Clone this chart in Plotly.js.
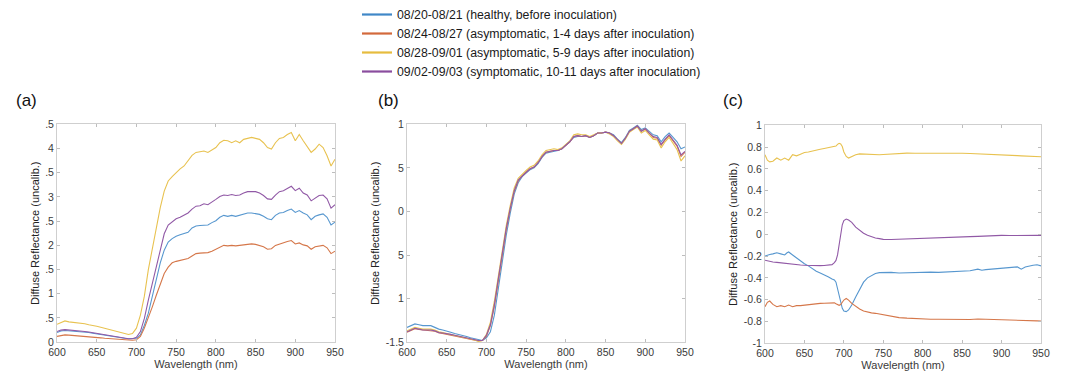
<!DOCTYPE html>
<html>
<head>
<meta charset="utf-8">
<script src="https://cdn.plot.ly/plotly-3.0.1.min.js"></script>
<style>
html,body{margin:0;padding:0;background:#fff;}
#chart{width:1080px;height:377px;}
</style>
</head>
<body>
<div id="chart"></div>
<script>
// ---------- DATA ----------
const seriesNames = [
  "08/20-08/21 (healthy, before inoculation)",
  "08/24-08/27 (asymptomatic, 1-4 days after inoculation)",
  "08/28-09/01 (asymptomatic, 5-9 days after inoculation)",
  "09/02-09/03 (symptomatic, 10-11 days after inoculation)"
];
const panelLabels = ["(a)", "(b)", "(c)"];

const wlAB = [600,605,610,615,620,625,630,635,640,645,650,655,660,665,670,675,680,685,690,695,
  700,705,710,715,720,725,730,735,740,745,750,755,760,765,770,775,780,785,790,795,
  800,805,810,815,820,825,830,835,840,845,850,855,860,865,870,875,880,885,890,895,
  900,905,910,915,920,925,930,935,940,945,950];

// Panel (a)
const aBlue = [0.20,0.23,0.24,0.235,0.23,0.225,0.22,0.21,0.20,0.185,0.17,0.155,0.14,0.13,0.12,0.105,0.09,0.08,0.07,0.07,
  0.08,0.15,0.35,0.60,0.97,1.32,1.64,1.90,2.07,2.14,2.19,2.22,2.24,2.27,2.36,2.40,2.41,2.42,2.42,2.47,
  2.51,2.58,2.62,2.60,2.62,2.60,2.62,2.64,2.67,2.67,2.66,2.64,2.60,2.55,2.53,2.62,2.67,2.68,2.72,2.75,
  2.68,2.72,2.67,2.63,2.53,2.60,2.63,2.65,2.58,2.42,2.48];
const aOrange = [0.12,0.14,0.15,0.145,0.14,0.135,0.13,0.125,0.12,0.11,0.10,0.09,0.08,0.075,0.07,0.06,0.05,0.045,0.04,0.04,
  0.05,0.12,0.29,0.49,0.73,0.97,1.21,1.42,1.55,1.64,1.67,1.69,1.71,1.73,1.78,1.83,1.84,1.84,1.85,1.88,
  1.92,1.97,2.00,1.99,2.00,1.99,2.00,2.01,2.03,2.03,2.02,2.00,1.97,1.92,1.93,2.00,2.03,2.05,2.08,2.10,
  2.03,2.05,2.01,1.99,1.92,1.97,1.99,2.00,1.95,1.83,1.88];
const aYellow = [0.37,0.41,0.44,0.42,0.41,0.41,0.40,0.38,0.36,0.35,0.33,0.31,0.29,0.27,0.25,0.23,0.20,0.18,0.16,0.18,
  0.29,0.56,0.95,1.50,1.95,2.38,2.78,3.12,3.33,3.42,3.51,3.58,3.64,3.75,3.86,3.92,3.93,3.95,3.92,3.97,
  4.02,4.12,4.17,4.16,4.12,4.16,4.12,4.19,4.21,4.23,4.21,4.19,4.12,4.02,3.99,4.12,4.21,4.23,4.29,4.33,
  4.16,4.29,4.16,4.05,3.92,3.99,4.09,4.02,3.85,3.64,3.78];
const aPurple = [0.22,0.25,0.26,0.255,0.25,0.24,0.23,0.22,0.21,0.195,0.18,0.165,0.15,0.135,0.12,0.11,0.10,0.085,0.07,0.07,
  0.10,0.22,0.49,0.87,1.21,1.59,1.93,2.24,2.42,2.48,2.55,2.58,2.62,2.67,2.75,2.81,2.82,2.86,2.84,2.89,
  2.95,3.01,3.04,3.03,3.05,3.03,3.04,3.08,3.11,3.11,3.11,3.08,3.03,2.96,2.95,3.04,3.11,3.13,3.18,3.22,
  3.13,3.18,3.08,3.04,2.92,2.97,3.03,3.04,2.96,2.77,2.84];

// Panel (b)
const bBlue = [-1.33,-1.31,-1.29,-1.30,-1.31,-1.31,-1.31,-1.33,-1.35,-1.36,-1.37,-1.385,-1.40,-1.41,-1.42,-1.435,-1.45,-1.46,-1.47,-1.48,
  -1.45,-1.38,-1.19,-0.88,-0.57,-0.27,-0.02,0.20,0.33,0.40,0.44,0.48,0.50,0.55,0.62,0.67,0.68,0.69,0.70,0.72,
  0.76,0.80,0.85,0.86,0.86,0.87,0.85,0.87,0.90,0.90,0.91,0.90,0.88,0.83,0.79,0.85,0.93,0.96,0.99,0.94,
  0.96,0.92,0.88,0.87,0.80,0.86,0.90,0.85,0.80,0.72,0.74];
const bOrange = [-1.385,-1.365,-1.345,-1.355,-1.36,-1.365,-1.365,-1.375,-1.39,-1.40,-1.405,-1.415,-1.425,-1.435,-1.445,-1.455,-1.465,-1.475,-1.485,-1.48,
  -1.43,-1.31,-1.09,-0.80,-0.49,-0.21,0.03,0.23,0.35,0.41,0.45,0.49,0.51,0.56,0.63,0.68,0.69,0.70,0.70,0.72,
  0.76,0.80,0.86,0.87,0.86,0.87,0.85,0.87,0.90,0.90,0.91,0.90,0.87,0.82,0.78,0.84,0.92,0.95,0.98,0.92,
  0.95,0.90,0.85,0.84,0.76,0.82,0.87,0.81,0.75,0.63,0.68];
const bYellow = [-1.37,-1.35,-1.33,-1.34,-1.35,-1.35,-1.35,-1.36,-1.38,-1.39,-1.40,-1.41,-1.42,-1.43,-1.44,-1.45,-1.46,-1.475,-1.49,-1.48,
  -1.41,-1.27,-1.03,-0.73,-0.43,-0.16,0.07,0.27,0.38,0.43,0.47,0.51,0.53,0.58,0.65,0.70,0.71,0.72,0.71,0.73,
  0.77,0.81,0.88,0.89,0.88,0.88,0.86,0.88,0.90,0.90,0.91,0.89,0.86,0.81,0.77,0.83,0.91,0.94,0.97,0.90,
  0.93,0.88,0.83,0.82,0.73,0.80,0.85,0.78,0.71,0.58,0.64];
const bPurple = [-1.38,-1.36,-1.34,-1.35,-1.36,-1.36,-1.36,-1.37,-1.39,-1.395,-1.40,-1.41,-1.42,-1.43,-1.44,-1.45,-1.46,-1.47,-1.48,-1.48,
  -1.42,-1.30,-1.07,-0.77,-0.46,-0.19,0.04,0.24,0.36,0.41,0.45,0.49,0.51,0.56,0.63,0.68,0.69,0.70,0.70,0.72,
  0.76,0.80,0.86,0.87,0.86,0.87,0.85,0.87,0.90,0.90,0.91,0.90,0.87,0.82,0.78,0.84,0.92,0.95,0.98,0.92,
  0.95,0.90,0.86,0.85,0.77,0.83,0.88,0.82,0.76,0.65,0.69];

// Panel (c)
const wlC = [600,603,606,610,615,620,625,628,630,635,640,645,650,655,660,665,670,675,680,685,
  688,690,692,694,696,698,700,703,706,710,715,720,725,730,735,740,745,750,760,770,
  780,790,800,810,820,830,840,850,860,870,875,880,890,900,910,920,925,930,940,945,950];
const cBlue = [-0.20,-0.19,-0.185,-0.18,-0.17,-0.18,-0.19,-0.17,-0.163,-0.19,-0.218,-0.24,-0.27,-0.29,-0.315,-0.34,-0.355,-0.37,-0.39,-0.41,
  -0.42,-0.44,-0.50,-0.57,-0.63,-0.68,-0.705,-0.71,-0.695,-0.65,-0.575,-0.50,-0.44,-0.40,-0.376,-0.36,-0.352,-0.35,-0.35,-0.355,
  -0.352,-0.35,-0.35,-0.348,-0.35,-0.345,-0.342,-0.34,-0.335,-0.32,-0.33,-0.325,-0.32,-0.31,-0.305,-0.30,-0.32,-0.30,-0.285,-0.28,-0.29];
const cOrange = [-0.665,-0.625,-0.613,-0.644,-0.665,-0.655,-0.665,-0.655,-0.65,-0.665,-0.655,-0.655,-0.65,-0.648,-0.644,-0.64,-0.635,-0.633,-0.63,-0.625,
  -0.63,-0.638,-0.645,-0.652,-0.645,-0.625,-0.604,-0.59,-0.604,-0.635,-0.665,-0.686,-0.705,-0.717,-0.722,-0.726,-0.733,-0.74,-0.756,-0.765,
  -0.77,-0.775,-0.778,-0.78,-0.78,-0.782,-0.783,-0.784,-0.782,-0.778,-0.776,-0.78,-0.783,-0.784,-0.786,-0.787,-0.788,-0.79,-0.792,-0.795,-0.796];
const cYellow = [0.73,0.68,0.665,0.67,0.70,0.68,0.70,0.69,0.68,0.73,0.72,0.735,0.75,0.755,0.765,0.775,0.78,0.787,0.796,0.805,
  0.808,0.81,0.825,0.835,0.83,0.805,0.756,0.714,0.70,0.714,0.73,0.738,0.735,0.732,0.73,0.728,0.73,0.732,0.738,0.744,
  0.745,0.744,0.744,0.746,0.748,0.747,0.745,0.744,0.741,0.739,0.738,0.736,0.733,0.732,0.728,0.722,0.72,0.718,0.716,0.713,0.712];
const cPurple = [-0.239,-0.245,-0.25,-0.254,-0.258,-0.263,-0.266,-0.268,-0.27,-0.275,-0.279,-0.282,-0.285,-0.287,-0.288,-0.289,-0.288,-0.287,-0.285,-0.279,
  -0.26,-0.24,-0.19,-0.10,0.005,0.087,0.126,0.14,0.13,0.11,0.065,0.035,0.01,-0.01,-0.026,-0.035,-0.04,-0.047,-0.048,-0.046,
  -0.044,-0.042,-0.04,-0.038,-0.036,-0.034,-0.03,-0.026,-0.022,-0.019,-0.017,-0.018,-0.015,-0.01,-0.012,-0.01,-0.008,-0.012,-0.005,-0.01,-0.012];

const xTickVals = [600,650,700,750,800,850,900,950];
const xTickText = ["600","650","700","750","800","850","900","950"];
const aTickVals = [0,0.5,1,1.5,2,2.5,3,3.5,4,4.5];
const aTickText = ["0",".5","1",".5","2",".5","3",".5","4",".5"];
const bTickVals = [-1.5,-1,-0.5,0,0.5,1];
const bTickText = ["-1.5","1","5","0","5","1"];
const cTickVals = [-1,-0.8,-0.6,-0.4,-0.2,0,0.2,0.4,0.6,0.8,1];
const cTickText = ["-1","-0.8","-0.6","-0.4","-0.2","0","0.2","0.4","0.6","0.8","1"];

const xTitle = "Wavelength (nm)";
const yTitle = "Diffuse Reflectance (uncalib.)";

// ---------- STYLE ----------
const lineColors = ["#5797cf", "#d5774a", "#e8c250", "#9159a6"];
const legendColors = ["#3f87c7", "#d3693b", "#e6bc3e", "#8a4d9e"];
const W = 1080, H = 377;
const FONT = "Liberation Sans, Arial, Helvetica, sans-serif";

const panels = [
  {x: wlAB, ys: [aBlue, aOrange, aYellow, aPurple], px: [57, 335], py: [123, 342], yr: [0, 4.5], tv: aTickVals, tt: aTickText},
  {x: wlAB, ys: [bBlue, bOrange, bYellow, bPurple], px: [407, 685], py: [123, 342], yr: [-1.5, 1], tv: bTickVals, tt: bTickText},
  {x: wlC,  ys: [cBlue, cOrange, cYellow, cPurple], px: [765, 1041], py: [124, 343], yr: [-1, 1], tv: cTickVals, tt: cTickText}
];

const traces = [];
const layout = {
  width: W, height: H,
  margin: {l: 0, r: 0, t: 0, b: 0},
  paper_bgcolor: "#fff", plot_bgcolor: "#fff",
  font: {family: FONT, color: "#333"},
  showlegend: true,
  legend: {
    x: 357 / W, y: 1 + 2 / H, xanchor: "left", yanchor: "top",
    font: {size: 12.3, color: "#1a1a1a", family: FONT},
    bgcolor: "rgba(0,0,0,0)", borderwidth: 0,
    itemwidth: 30, tracegroupgap: 0
  },
  annotations: []
};

panels.forEach((p, i) => {
  const sfx = i === 0 ? "" : String(i + 1);
  p.ys.forEach((y, k) => {
    traces.push({
      type: "scatter", mode: "lines",
      x: p.x, y: y,
      xaxis: "x" + sfx, yaxis: "y" + sfx,
      name: seriesNames[k],
      showlegend: false,
      line: {color: lineColors[k], width: 1.1}
    });
  });
  const axCommon = {
    showline: true, mirror: "ticks", linecolor: "#cfcfcf", linewidth: 1,
    ticks: "inside", ticklen: 3, tickcolor: "#bdbdbd", tickwidth: 1,
    showgrid: false, zeroline: false,
    tickfont: {size: 10.5, color: "#3a3a3a", family: FONT}
  };
  layout["xaxis" + sfx] = Object.assign({}, axCommon, {
    domain: [p.px[0] / W, p.px[1] / W],
    anchor: "y" + sfx,
    range: [600, 950],
    tickmode: "array", tickvals: xTickVals, ticktext: xTickText,
    title: {text: xTitle, font: {size: 11, color: "#3a3a3a"}, standoff: 1}
  });
  layout["yaxis" + sfx] = Object.assign({}, axCommon, {
    domain: [1 - p.py[1] / H, 1 - p.py[0] / H],
    anchor: "x" + sfx,
    range: p.yr,
    tickmode: "array", tickvals: p.tv, ticktext: p.tt,
    title: {text: yTitle, font: {size: 11, color: "#222"}, standoff: 3}
  });
  const labX = [26, 388, 733][i];
  layout.annotations.push({
    text: panelLabels[i], xref: "paper", yref: "paper",
    x: labX / W, y: 1 - 99 / H, xanchor: "center", yanchor: "middle",
    showarrow: false, font: {size: 17, color: "#111", family: FONT}
  });
});

// legend-only entries (thicker sample lines, no data)
seriesNames.forEach((nm, k) => {
  traces.push({
    type: "scatter", mode: "lines", x: [null], y: [null],
    xaxis: "x", yaxis: "y",
    name: nm, showlegend: true, hoverinfo: "skip",
    line: {color: legendColors[k], width: 2.2}
  });
});

Plotly.newPlot("chart", traces, layout, {displayModeBar: false, staticPlot: true});
</script>
</body>
</html>
